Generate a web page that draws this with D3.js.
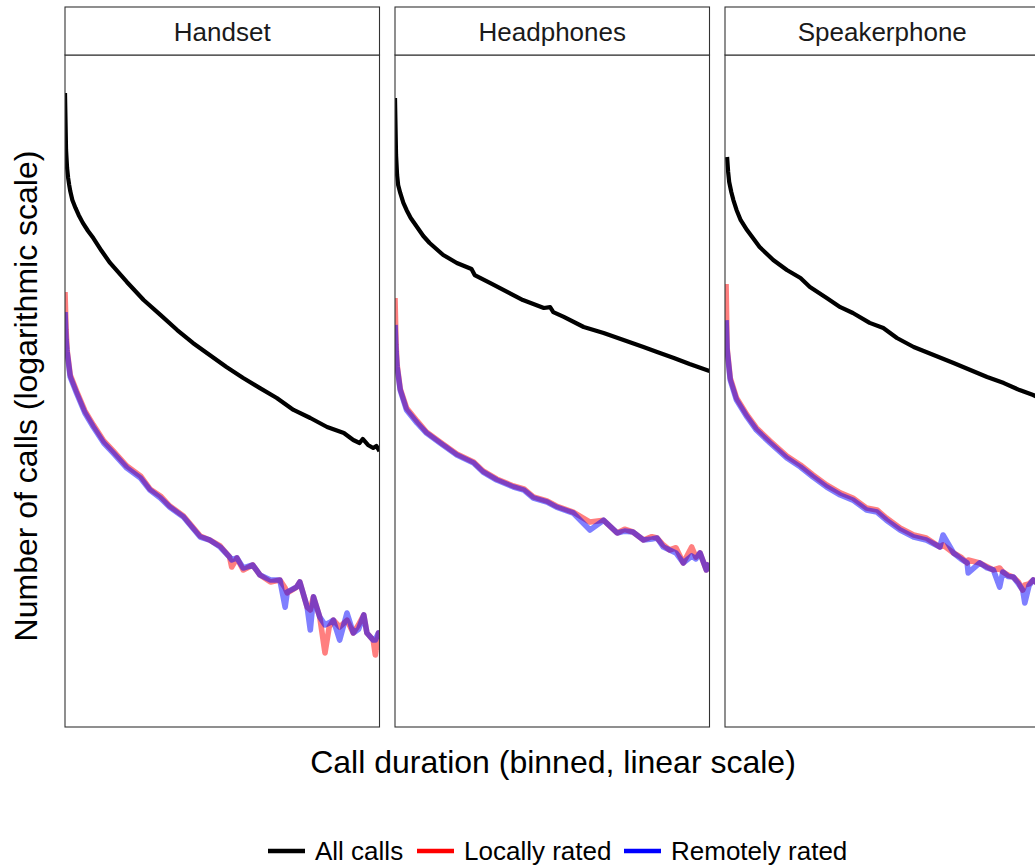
<!DOCTYPE html>
<html>
<head>
<meta charset="utf-8">
<script src="https://cdn.jsdelivr.net/npm/d3@7"></script>
<style>
  body { margin: 0; background: #fff; overflow: hidden; }
  svg { display: block; font-family: "Liberation Sans", Arial, sans-serif; }
</style>
</head>
<body>
<div id="chart"></div>
<script>
// facets (panel titles)
var facets = ["Handset", "Headphones", "Speakerphone"];

// series names for the legend
var seriesNames = ["All calls", "Locally rated", "Remotely rated"];

// [bin, number of calls]
var handsetAll = [[0, 2190000], [1, 589000], [2, 389000], [3, 309000], [4, 263000], [5, 229000],
	[7, 186000], [10, 155000], [13, 132000], [17, 110000], [22, 91200], [27, 77600], [35, 57500],
	[43, 43700], [59, 28200], [75, 18600], [91, 13200], [107, 9330],
	[122, 6920], [138, 5250], [154, 3980], [170, 3090], [186, 2450], [202, 1950], [218, 1480],
	[234, 1230], [250, 1000], [266, 871], [275, 741], [281, 692], [284, 759], [289, 661],
	[294, 617], [297, 646], [300, 575]];

var handsetLocal = [[0, 22400], [1, 9330], [2, 5890], [5, 3310], [11, 2290], [19, 1450], [27, 1050],
	[37, 724], [46, 575], [59, 407], [72, 324], [81, 240], [91, 204], [100, 162], [113, 129],
	[121, 102], [129, 81.3], [138, 74.1], [148, 64.6], [157, 50.1], [159, 39.8], [164, 49.0],
	[170, 37.2], [179, 41.7], [186, 33.1], [196, 28.2], [205, 29.5], [210, 24.5], [212, 21.9],
	[221, 25.1], [224, 28.2], [231, 15.8], [234, 14.8], [237, 20.0], [243, 12.6], [248, 5.5],
	[252, 10.0], [256, 11.7], [262, 10.0], [269, 11.7], [275, 8.71], [280, 10.5], [285, 13.2],
	[288, 8.71], [294, 7.41], [296, 5.25], [299, 8.71], [300, 5.89]];

var handsetRemote = [[0, 14100], [1, 7410], [2, 5620], [5, 3160], [11, 2190], [19, 1380], [27, 1000],
	[37, 692], [46, 550], [59, 389], [72, 309], [81, 234], [91, 195], [100, 158], [113, 126],
	[121, 100], [129, 79.4], [138, 74.1], [148, 63.1], [157, 50.1], [159, 46.8], [164, 49.0],
	[170, 38.9], [179, 41.7], [186, 33.1], [196, 29.5], [205, 29.5], [210, 15.8], [212, 22.4],
	[221, 25.1], [224, 28.2], [231, 15.8], [234, 9.33], [237, 20.0], [243, 12.6], [248, 10.5],
	[252, 11.0], [256, 11.7], [262, 7.41], [269, 13.8], [275, 8.71], [280, 9.5], [285, 13.2],
	[288, 8.71], [294, 7.41], [296, 7.41], [299, 8.71], [300, 8.32]];

var headphonesAll = [[0, 1950000], [1, 525000], [2, 331000], [3, 263000], [5, 219000], [8, 174000],
	[11, 148000], [15, 123000], [21, 100000], [27, 81300], [33, 69200], [46, 52500], [59, 43700],
	[73, 38000], [76, 33100], [91, 27500],
	[107, 22400], [122, 18600], [142, 15500], [148, 15800], [151, 14100], [161, 12600],
	[180, 10000], [199, 8710], [218, 7410], [237, 6310], [250, 5620], [266, 4900], [281, 4270],
	[300, 3630]];

var headphonesLocal = [[0, 19500], [1, 6610], [2, 4170], [5, 2400], [11, 1550], [21, 1150], [30, 891],
	[43, 708], [59, 537], [75, 447], [84, 363], [97, 302], [113, 257], [123, 240], [132, 200],
	[145, 182], [154, 162], [170, 141], [186, 112], [199, 117], [212, 87.1], [219, 95],
	[227, 89.1], [237, 74.1], [245, 80], [250, 77.6], [256, 66], [262, 58.9], [268, 62],
	[275, 43.7], [283, 63.1], [287, 50], [291, 55.0], [297, 37.2], [300, 43.7]];

var headphonesRemote = [[0, 10500], [1, 5620], [2, 3980], [5, 2340], [11, 1480], [21, 1100], [30, 871],
	[43, 692], [59, 525], [75, 437], [84, 355], [97, 295], [113, 251], [123, 234], [132, 195],
	[145, 178], [154, 158], [170, 138], [186, 93.3], [199, 117], [212, 87.1], [219, 91],
	[227, 89.1], [237, 74.1], [245, 76], [250, 77.6], [256, 63], [262, 58.9], [268, 55],
	[275, 43.7], [283, 51.3], [287, 48], [291, 55.0], [297, 37.2], [300, 43.7]];

var speakerAll = [[2, 501000], [3, 355000], [4, 282000], [6, 224000], [8, 186000], [11, 148000],
	[15, 117000], [21, 93300],
	[33, 63100], [46, 46800], [59, 37200], [72, 30900], [81, 25100], [97, 19500], [110, 15800],
	[122, 13800], [138, 11000], [151, 9770], [164, 7760], [180, 6310], [199, 5250], [218, 4370],
	[234, 3720], [250, 3160], [266, 2750], [281, 2340], [294, 2090], [300, 1950]];

var speakerLocal = [[1, 26900], [2, 6170], [5, 3090], [11, 1950], [21, 1320], [30, 977], [43, 724],
	[59, 513], [72, 417], [84, 331], [97, 263], [110, 219], [122, 195], [135, 155], [145, 148],
	[154, 123], [167, 97.7], [180, 83.2], [192, 77.6], [205, 63.1], [208, 66.1], [218, 55.0],
	[225, 50], [231, 43.7], [232, 46.8], [243, 43.7], [250, 40], [256, 37.2], [262, 38.9],
	[265, 35.5], [270, 33], [275, 31.6], [280, 28], [284, 23.4], [286, 26.3], [290, 27],
	[294, 29.5], [300, 26.3]];

var speakerRemote = [[1, 11700], [2, 5890], [5, 2950], [11, 1860], [21, 1260], [30, 933], [43, 692],
	[59, 490], [72, 398], [84, 316], [97, 251], [110, 209], [122, 186], [135, 148], [145, 141],
	[154, 117], [167, 93.3], [180, 79.4], [192, 74.1], [205, 63.1], [208, 83.2], [218, 55.0],
	[225, 48], [231, 43.7], [232, 34.7], [243, 43.7], [250, 39], [256, 37.2], [262, 25.1],
	[265, 35.5], [270, 32], [275, 31.6], [280, 27], [284, 23.4], [286, 17.4], [290, 26],
	[294, 29.5], [300, 26.3]];

var panelSeries = [
	[handsetAll, handsetLocal, handsetRemote],
	[headphonesAll, headphonesLocal, headphonesRemote],
	[speakerAll, speakerLocal, speakerRemote]
];

var colors = ["#000000", "#ff0000", "#0000ff"],
	opacity = [1, 0.5, 0.5],
	widths = [4.2, 5.6, 5.6];

var width = 1035,
	height = 867,
	panelLeft = 65,
	panelW = 314.5,
	panelGap = 15.5,
	stripTop = 7,
	stripH = 48,
	panelTop = 55,
	panelH = 672;

var svg = d3.select("#chart").append("svg")
	.attr("width", width)
	.attr("height", height);

var x = d3.scaleLinear().domain([0, 300]).range([0, panelW]);
var y = d3.scaleLog().domain([1, Math.pow(10, 6.72)]).range([panelH, 0]);

var line = d3.line()
	.x(function(d) { return x(d[0]); })
	.y(function(d) { return y(d[1]); });

facets.forEach(function(name, i) {
	var left = panelLeft + i * (panelW + panelGap);

	svg.append("clipPath")
		.attr("id", "clip" + i)
		.append("rect")
		.attr("width", panelW)
		.attr("height", panelH);

	var g = svg.append("g")
		.attr("transform", "translate(" + left + "," + panelTop + ")");

	var plot = g.append("g").attr("clip-path", "url(#clip" + i + ")");

	panelSeries[i].forEach(function(s, k) {
		plot.append("path")
			.datum(s)
			.attr("d", line)
			.attr("fill", "none")
			.attr("stroke", colors[k])
			.attr("stroke-opacity", opacity[k])
			.attr("stroke-width", widths[k])
			.attr("stroke-linejoin", "round");
	});

	// panel border
	g.append("rect")
		.attr("width", panelW)
		.attr("height", panelH)
		.attr("fill", "none")
		.attr("stroke", "#333")
		.attr("stroke-width", 1.1);

	// strip
	var strip = svg.append("g")
		.attr("transform", "translate(" + left + "," + stripTop + ")");
	strip.append("rect")
		.attr("width", panelW)
		.attr("height", stripH)
		.attr("fill", "#fff")
		.attr("stroke", "#333")
		.attr("stroke-width", 1.1);
	strip.append("text")
		.attr("x", panelW / 2)
		.attr("y", 34)
		.attr("text-anchor", "middle")
		.attr("font-size", "26px")
		.attr("fill", "#1a1a1a")
		.text(name);
});

// axis titles
svg.append("text")
	.attr("x", 553)
	.attr("y", 773)
	.attr("text-anchor", "middle")
	.attr("font-size", "32px")
	.text("Call duration (binned, linear scale)");

svg.append("text")
	.attr("transform", "translate(37,396) rotate(-90)")
	.attr("text-anchor", "middle")
	.attr("font-size", "32px")
	.text("Number of calls (logarithmic scale)");

// legend
var legendX = [268, 417, 624];
var legend = svg.append("g");
seriesNames.forEach(function(n, k) {
	legend.append("line")
		.attr("x1", legendX[k])
		.attr("x2", legendX[k] + 37)
		.attr("y1", 851)
		.attr("y2", 851)
		.attr("stroke", colors[k])
		.attr("stroke-width", 4.5);
	legend.append("text")
		.attr("x", legendX[k] + 47)
		.attr("y", 860)
		.attr("font-size", "26px")
		.text(n);
});
</script>
</body>
</html>
